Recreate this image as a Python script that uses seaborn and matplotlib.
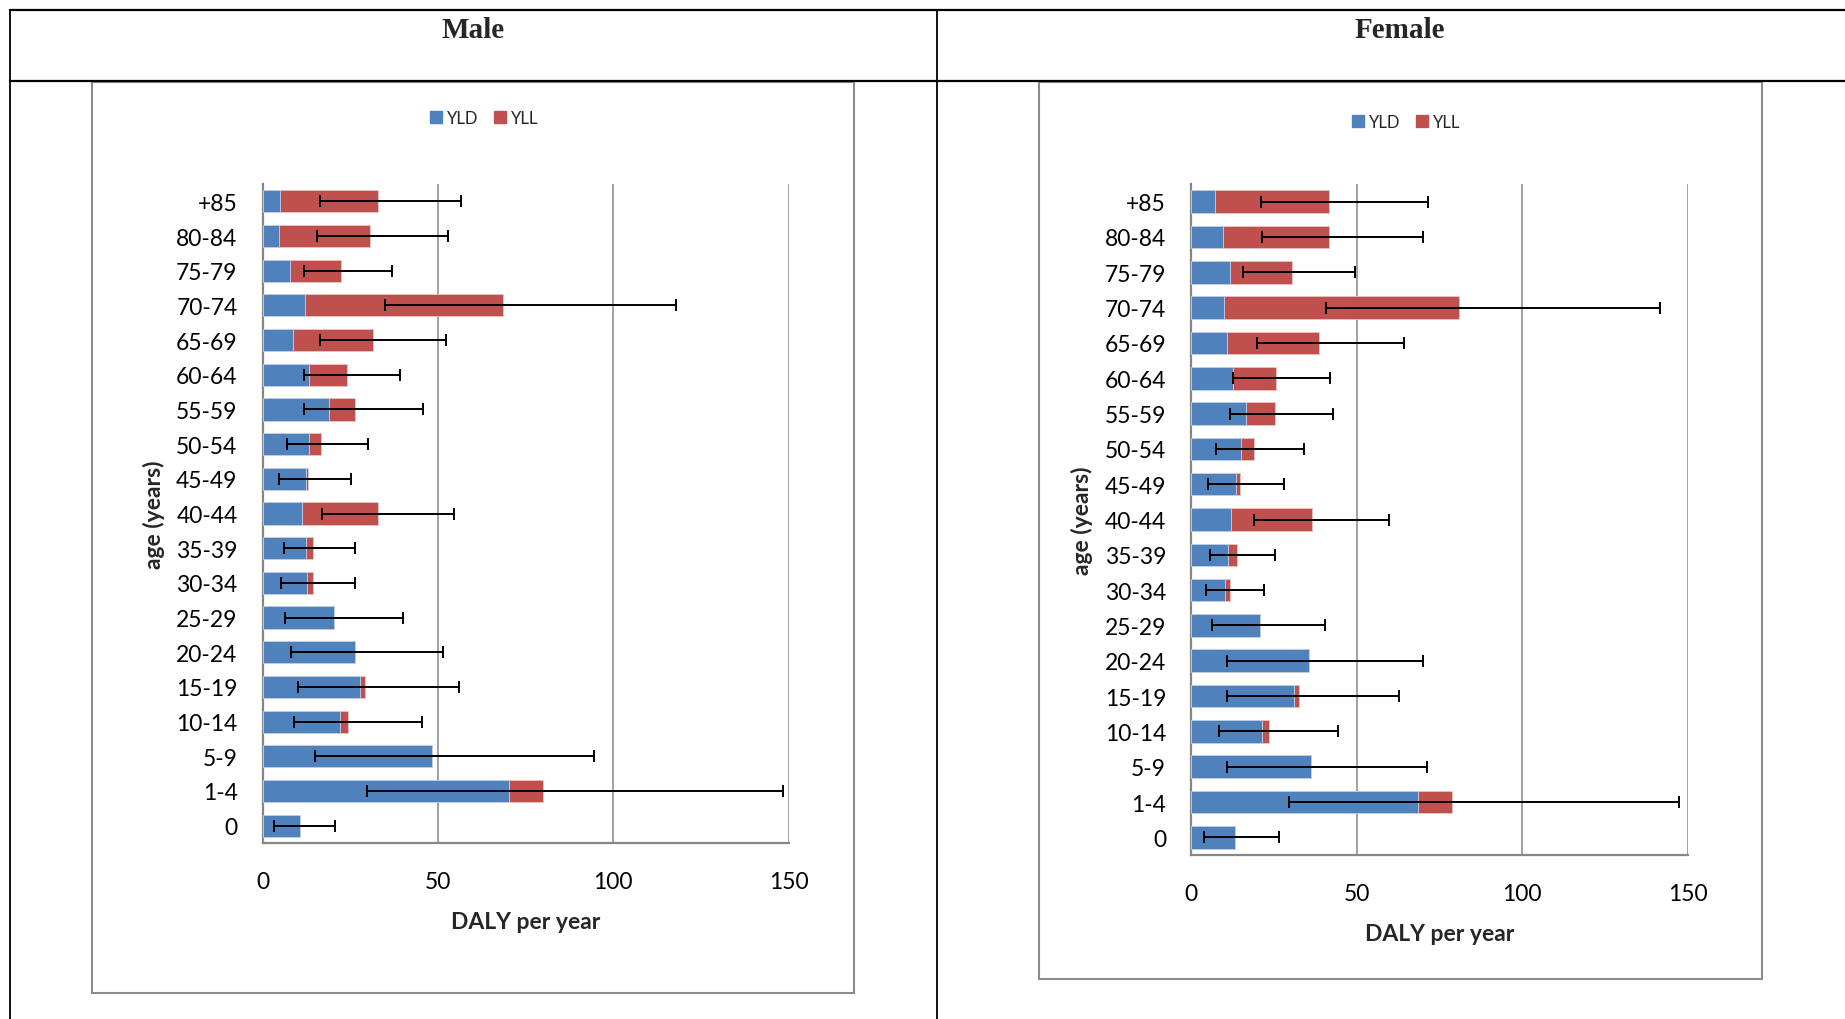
import numpy as np
import pandas as pd
import seaborn as sns
import matplotlib.pyplot as plt
from matplotlib.lines import Line2D
from matplotlib.patches import Rectangle, Patch

sns.set_style("white")
plt.rcParams["font.family"] = ["Lato", "DejaVu Sans"]

ages = ["+85", "80-84", "75-79", "70-74", "65-69", "60-64", "55-59", "50-54", "45-49",
        "40-44", "35-39", "30-34", "25-29", "20-24", "15-19", "10-14", "5-9", "1-4", "0"]

# male
male_yld = [5.1, 4.8, 7.7, 12.0, 8.8, 13.4, 19.0, 13.4, 12.4, 11.4, 12.3, 12.8, 20.5, 26.4, 27.7, 22.2, 48.2, 70.2, 10.6]
male_total = [32.8, 30.7, 22.5, 68.7, 31.4, 24.1, 26.5, 16.8, 13.1, 32.9, 14.5, 14.3, 20.5, 26.4, 29.1, 24.4, 48.2, 79.9, 10.6]
male_lo = [16.4, 15.5, 11.7, 34.9, 16.3, 11.8, 11.8, 7.1, 4.6, 17.1, 6.0, 5.3, 6.3, 8.0, 10.0, 9.0, 15.0, 29.7, 3.4]
male_hi = [56.6, 52.9, 36.9, 117.9, 52.3, 39.2, 45.8, 30.1, 25.1, 54.5, 26.4, 26.5, 40.2, 51.6, 55.9, 45.6, 94.5, 148.3, 20.8]

# female
female_yld = [7.1, 9.8, 11.9, 10.0, 10.9, 12.8, 16.5, 15.0, 13.7, 12.2, 11.3, 10.3, 20.7, 35.6, 31.0, 21.5, 36.4, 68.7, 13.3]
female_total = [41.8, 41.7, 30.4, 81.0, 38.7, 25.8, 25.4, 19.0, 14.7, 36.6, 14.0, 11.9, 20.7, 35.6, 32.6, 23.6, 36.4, 79.0, 13.3]
female_lo = [21.1, 21.5, 15.7, 40.9, 19.8, 12.8, 11.8, 7.7, 5.0, 18.9, 5.6, 4.5, 6.2, 10.9, 11.0, 8.5, 11.0, 29.5, 3.9]
female_hi = [71.5, 70.1, 49.5, 141.7, 64.4, 42.0, 42.9, 34.0, 28.1, 59.7, 25.4, 22.1, 40.6, 70.2, 62.7, 44.4, 71.3, 147.4, 26.6]

BLUE = "#4F81BD"
RED = "#C0504D"
GRID = "#878787"

W, H = 1845, 1020
fig = plt.figure(figsize=(W / 100, H / 100), dpi=100)


def fx(px):
    return px / W


def fy(py):
    return 1 - py / H


# table lines
for (x0, y0, x1, y1, lw) in [(10, 11, W, 11, 1.6), (10, 82, W, 82, 1.6),
                             (10, 11, 10, H, 1.3), (937, 11, 937, H, 1.3)]:
    fig.add_artist(Line2D([fx(x0), fx(x1)], [fy(y0), fy(y1)], color="black", lw=lw,
                          transform=fig.transFigure))

fig.text(fx(473), fy(30), "Male", ha="center", va="center", fontsize=21,
         fontweight="bold", family="Liberation Serif")
fig.text(fx(1400), fy(30), "Female", ha="center", va="center", fontsize=21,
         fontweight="bold", family="Liberation Serif")

# chart frames
for (x0, y0, x1, y1) in [(92, 83, 854, 994), (1039, 83, 1762, 980)]:
    fig.add_artist(Rectangle((fx(x0), fy(y1)), fx(x1) - fx(x0), fy(y0) - fy(y1),
                             fill=False, edgecolor="#8c8c8c", lw=1.5,
                             transform=fig.transFigure))

panels = [
    (male_yld, male_total, male_lo, male_hi, (262.5, 185, 788.5, 844), (484, 119)),
    (female_yld, female_total, female_lo, female_hi, (1191, 185, 1687.5, 856), (1406, 123)),
]

for yld, total, lo, hi, (x0, y0, x1, y1), (lx, ly) in panels:
    ax = fig.add_axes([fx(x0), fy(y1), fx(x1) - fx(x0), fy(y0) - fy(y1)])
    df = pd.DataFrame({"age": ages, "yld": yld, "total": total})
    sns.barplot(data=df, x="total", y="age", color=RED, saturation=1, width=0.64,
                errorbar=None, edgecolor="#e8c4c3", linewidth=0.6, ax=ax, zorder=2)
    sns.barplot(data=df, x="yld", y="age", color=BLUE, saturation=1, width=0.64,
                errorbar=None, edgecolor="#c5d5ea", linewidth=0.6, ax=ax, zorder=3)
    tot = np.array(total)
    ax.errorbar(tot, np.arange(len(ages)), xerr=[tot - np.array(lo), np.array(hi) - tot],
                fmt="none", ecolor="black", elinewidth=1.4, capsize=4.5, capthick=1.4, zorder=4)
    ax.set_ylim(len(ages) - 0.5, -0.5)
    ax.set_xlim(0, 150)
    ax.set_xticks([0, 50, 100, 150])
    ax.set_axisbelow(True)
    ax.xaxis.grid(True, color=GRID, lw=1.1)
    for s in ["top", "right"]:
        ax.spines[s].set_visible(False)
    for s in ["left", "bottom"]:
        ax.spines[s].set_color(GRID)
        ax.spines[s].set_linewidth(1.6)
    ax.tick_params(axis="both", length=0, labelsize=16.5, colors="black")
    ax.tick_params(axis="x", pad=20)
    ax.tick_params(axis="y", pad=18)
    ax.set_xlabel("DALY per year", fontsize=16.5, fontweight="bold", labelpad=14)
    ax.set_ylabel("age (years)", fontsize=16.5, fontweight="bold", labelpad=8)
    handles = [Patch(color=BLUE, label="YLD"), Patch(color=RED, label="YLL")]
    ax.legend(handles=handles, loc="center", bbox_to_anchor=(fx(lx), fy(ly)),
              bbox_transform=fig.transFigure, ncol=2, frameon=False, fontsize=12,
              handlelength=0.72, handleheight=0.72, handletextpad=0.3, columnspacing=0.96)

fig.savefig("out.png", dpi=100)
